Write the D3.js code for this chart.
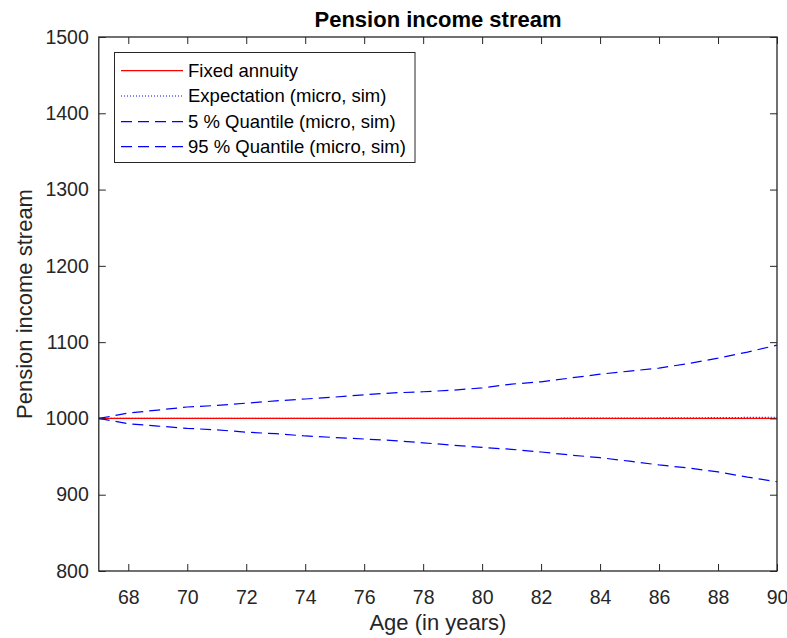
<!DOCTYPE html>
<html>
<head>
<meta charset="utf-8">
<script src="https://cdn.jsdelivr.net/npm/d3@7"></script>
<style>
  html, body { margin: 0; padding: 0; background: #fff; }
  svg text { font-family: "Liberation Sans", Arial, Helvetica, sans-serif; fill: #262626; }
</style>
</head>
<body>
<svg id="chart" width="787" height="638"></svg>
<script>
// ---- data ----
const ages = [67,68,69,70,71,72,73,74,75,76,77,78,79,80,81,82,83,84,85,86,87,88,89,90];
const fixedAnnuity = [1000,1000,1000,1000,1000,1000,1000,1000,1000,1000,1000,1000,1000,1000,1000,1000,1000,1000,1000,1000,1000,1000,1000,1000];
const expectation = [1000,1000,1000,1000,1000,1000,1000,1000,1000,1000,1000,1000,1000,1000,1000.1,1000.2,1000.3,1000.4,1000.5,1000.6,1000.8,1001,1001.3,1001.6];
const quantile05 = [1000,993,990,987,985,982,980,977,975,973,971,968,965,962,959.5,956,952,948.5,944,939,935,930,923,917];
const quantile95 = [1000,1007,1011,1015,1017,1020,1023,1025.5,1028,1031,1033.5,1035,1037,1040,1045,1048,1053,1058,1062,1066,1072,1079,1087,1096];
const xTicks = [68,70,72,74,76,78,80,82,84,86,88,90];
const yTicks = [800,900,1000,1100,1200,1300,1400,1500];
const legendLabels = ["Fixed annuity","Expectation (micro, sim)","5 % Quantile (micro, sim)","95 % Quantile (micro, sim)"];

// ---- layout ----
const svg = d3.select("#chart");
const L = 98.8, R = 777, T = 37, B = 571;
const x = d3.scaleLinear().domain([67, 90]).range([L, R]);
const y = d3.scaleLinear().domain([800, 1500]).range([B, T]);
const axisColor = "#262626";
const tickLen = 7;

// clip
svg.append("defs").append("clipPath").attr("id","clip")
  .append("rect").attr("x", L).attr("y", T).attr("width", R-L).attr("height", B-T);

// ---- series ----
const series = [
  {vals: fixedAnnuity, color: "#ff0000", dash: null},
  {vals: expectation, color: "#0000ff", dash: "1,2"},
  {vals: quantile05, color: "#0000ff", dash: "11,6"},
  {vals: quantile95, color: "#0000ff", dash: "11,6"}
];
const line = d3.line().x((d,i) => x(ages[i])).y(d => y(d));
const g = svg.append("g").attr("clip-path","url(#clip)");
[1,0,2,3].forEach(k => {
  const s = series[k];
  g.append("path").datum(s.vals).attr("d", line)
    .attr("fill","none").attr("stroke", s.color).attr("stroke-width", 1.2)
    .attr("stroke-dasharray", s.dash);
});

// ---- axes ----
const xAxisB = d3.axisBottom(x).tickValues(xTicks).tickSize(-tickLen).tickPadding(tickLen + 12).tickFormat(d3.format("d"));
const xAxisT = d3.axisTop(x).tickValues(xTicks).tickSize(-tickLen).tickFormat("");
const yAxisL = d3.axisLeft(y).tickValues(yTicks).tickSize(-tickLen).tickPadding(tickLen + 3).tickFormat(d3.format("d"));
const yAxisR = d3.axisRight(y).tickValues(yTicks).tickSize(-tickLen).tickFormat("");

function style(sel) {
  sel.select(".domain").remove();
  sel.selectAll(".tick line").attr("stroke", axisColor).attr("stroke-width", 1);
  sel.selectAll(".tick text").attr("fill", axisColor).style("font-size", "19.5px");
}
svg.append("g").attr("transform", `translate(0,${B})`).call(xAxisB).call(style);
svg.append("g").attr("transform", `translate(0,${T})`).call(xAxisT).call(style);
svg.append("g").attr("transform", `translate(${L},0)`).call(yAxisL).call(style);
svg.append("g").attr("transform", `translate(${R},0)`).call(yAxisR).call(style);

// box
svg.append("rect").attr("x", L).attr("y", T).attr("width", R-L).attr("height", B-T)
  .attr("fill","none").attr("stroke", axisColor).attr("stroke-width", 1.3);

// ---- labels ----
svg.append("text").attr("x", 438).attr("y", 27).attr("text-anchor","middle")
  .style("font-size","22px").style("font-weight","bold").style("fill","#000")
  .text("Pension income stream");
svg.append("text").attr("x", (L+R)/2).attr("y", 630).attr("text-anchor","middle")
  .style("font-size","22px").text("Age (in years)");
svg.append("text").attr("transform", `translate(32,${(T+B)/2}) rotate(-90)`)
  .attr("text-anchor","middle").style("font-size","22px").text("Pension income stream");

// ---- legend ----
const lg = svg.append("g");
lg.append("rect").attr("x", 114.5).attr("y", 52.5).attr("width", 300.5).attr("height", 110)
  .attr("fill","#fff").attr("stroke", axisColor).attr("stroke-width", 1);
const rowY = [70.7, 96, 121.7, 146.7];
legendLabels.forEach((lab, i) => {
  const s = series[i];
  lg.append("line").attr("x1", 121).attr("x2", 183).attr("y1", rowY[i]).attr("y2", rowY[i])
    .attr("stroke", s.color).attr("stroke-width", 1.2).attr("stroke-dasharray", s.dash);
  lg.append("text").attr("x", 188).attr("y", rowY[i]).attr("dy","0.35em")
    .style("font-size","18.5px").style("fill","#000").text(lab);
});
</script>
</body>
</html>
